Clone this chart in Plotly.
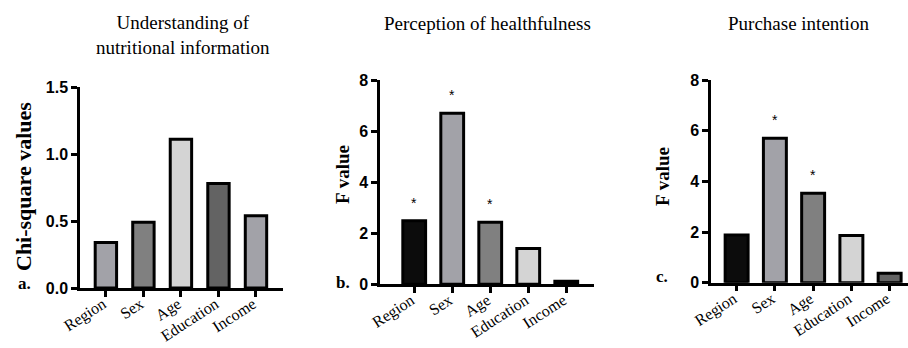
import plotly.graph_objects as go

# Factors tested in each panel
categories = ["Region", "Sex", "Age", "Education", "Income"]

# Panel a: chi-square values for understanding of nutritional information
chi_square = [0.34, 0.49, 1.11, 0.78, 0.54]
# Panel b: F values for perception of healthfulness
f_health = [2.49, 6.70, 2.43, 1.40, 0.12]
sig_health = [True, True, True, False, False]
# Panel c: F values for purchase intention
f_purchase = [1.88, 5.70, 3.53, 1.86, 0.37]
sig_purchase = [False, True, True, False, False]

colors_a = ["#a2a2a8", "#808080", "#d4d4d4", "#636363", "#a2a2a8"]
colors_b = ["#0c0c0c", "#a2a2a8", "#808080", "#d4d4d4", "#1a1a1a"]
colors_c = ["#0c0c0c", "#a2a2a8", "#808080", "#d4d4d4", "#636363"]

W, H = 908, 348
SERIF = "Liberation Serif, Times New Roman, DejaVu Serif, serif"
SANS = "Liberation Sans, Arial, DejaVu Sans, sans-serif"


def px_x(p):
    return p / W


def px_y(p):
    return 1 - p / H


fig = go.Figure()

panels = [
    dict(vals=chi_square, cols=colors_a, sig=None, xa="x", ya="y", width=0.57),
    dict(vals=f_health, cols=colors_b, sig=sig_health, xa="x2", ya="y2", width=0.6),
    dict(vals=f_purchase, cols=colors_c, sig=sig_purchase, xa="x3", ya="y3", width=0.6),
]

for p in panels:
    fig.add_trace(go.Bar(
        x=categories, y=p["vals"], xaxis=p["xa"], yaxis=p["ya"],
        width=p["width"],
        marker=dict(color=p["cols"], line=dict(color="#000000", width=3)),
        showlegend=False, hoverinfo="x+y",
    ))
    if p["sig"]:
        for c, v, s in zip(categories, p["vals"], p["sig"]):
            if s:
                fig.add_annotation(
                    x=c, y=v, xref=p["xa"], yref=p["ya"], text="*",
                    showarrow=False, yanchor="bottom", yshift=8,
                    font=dict(family=SANS, size=14, color="#000000"),
                )

axis_common = dict(
    showline=True, linecolor="#000000", linewidth=2.5,
    ticks="outside", ticklen=6, tickwidth=2.5, tickcolor="#000000",
    showgrid=False, zeroline=False, automargin=False,
)
xaxis_common = dict(tickangle=-33, ticklabelstandoff=-8, ticklabelshift=-3,
                    tickfont=dict(family=SERIF, size=16, color="#000000"))
yfont = dict(family=SANS, size=16, color="#000000", weight="bold")

fig.update_layout(
    template="none",
    width=W, height=H, margin=dict(l=0, r=0, t=0, b=0, pad=0),
    plot_bgcolor="#ffffff", paper_bgcolor="#ffffff",
    xaxis=dict(domain=[px_x(80), px_x(283)], range=[-0.69, 4.72],
               anchor="y", **xaxis_common, **axis_common),
    yaxis=dict(domain=[px_y(288), px_y(87)], range=[0, 1.5],
               tickvals=[0, 0.5, 1.0, 1.5], tickformat=".1f",
               tickfont=yfont, anchor="x", **axis_common),
    xaxis2=dict(domain=[px_x(380), px_x(594)], range=[-0.9, 4.73],
                anchor="y2", **xaxis_common, **axis_common),
    yaxis2=dict(domain=[px_y(284.3), px_y(80)], range=[0, 8],
                tickvals=[0, 2, 4, 6, 8], tickfont=yfont, anchor="x2", **axis_common),
    xaxis3=dict(domain=[px_x(711), px_x(908)], range=[-0.67, 4.48],
                anchor="y3", **xaxis_common, **axis_common),
    yaxis3=dict(domain=[px_y(282.7), px_y(80)], range=[0, 8],
                tickvals=[0, 2, 4, 6, 8], tickfont=yfont, anchor="x3", **axis_common),
)

titles = [
    ("Understanding of<br>nutritional information", 183, 35),
    ("Perception of healthfulness", 487, 23),
    ("Purchase intention", 798, 23),
]
for text, cx, cy in titles:
    fig.add_annotation(
        x=px_x(cx), y=px_y(cy), xref="paper", yref="paper", text=text,
        showarrow=False, xanchor="center", yanchor="middle",
        font=dict(family=SERIF, size=19, color="#000000"),
    )

ytitles = [("Chi-square values", 23, 187, 22), ("F value", 342, 175, 19),
           ("F value", 662, 177, 19)]
for text, cx, cy, size in ytitles:
    fig.add_annotation(
        x=px_x(cx), y=px_y(cy), xref="paper", yref="paper", text=text,
        showarrow=False, textangle=-90, xanchor="center", yanchor="middle",
        font=dict(family=SERIF, size=size, color="#000000", weight="bold"),
    )

letters = [("a.", 24, 283), ("b.", 343, 282), ("c.", 662, 276)]
for text, cx, cy in letters:
    fig.add_annotation(
        x=px_x(cx), y=px_y(cy), xref="paper", yref="paper", text=text,
        showarrow=False, xanchor="center", yanchor="middle",
        font=dict(family=SERIF, size=17, color="#000000", weight="bold"),
    )

fig.write_html("out.html")
